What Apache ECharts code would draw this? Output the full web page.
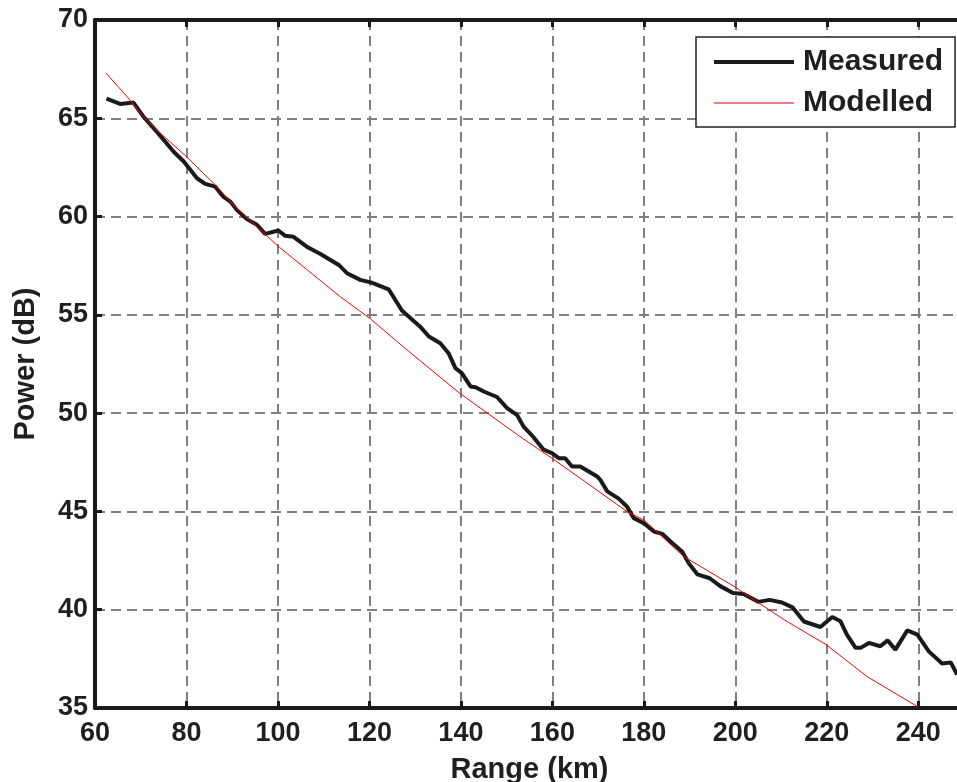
<!DOCTYPE html>
<html>
<head>
<meta charset="utf-8">
<script src="https://cdn.jsdelivr.net/npm/echarts@6/dist/echarts.min.js"></script>
<style>
html,body{margin:0;padding:0;background:#fff;}
#chart{width:957px;height:782px;}
</style>
</head>
<body>
<div id="chart"></div>
<script>
// Measured power vs range (km)
var measuredRange = [62.5, 65.5, 68.4, 70.6, 73.5, 77.2, 79.4, 82.3, 84.1, 86.3, 88.1, 89.6, 91.0, 93.2, 95.4, 97.2, 100.1, 101.6, 103.4, 106.3, 109.3, 113.3, 115.1, 118.0, 120.5, 124.2, 127.1, 131.1, 133.0, 135.5, 137.3, 138.8, 140.2, 142.1, 143.2, 145.0, 147.9, 150.1, 152.3, 153.7, 155.6, 158.1, 159.9, 161.4, 162.8, 164.3, 166.1, 169.8, 170.5, 172.0, 174.5, 176.3, 177.8, 180.0, 182.2, 184.0, 186.2, 188.4, 189.8, 191.7, 194.4, 196.7, 199.5, 201.8, 205.0, 207.5, 210.2, 212.5, 215.0, 218.6, 221.2, 223.0, 224.4, 226.3, 227.4, 229.2, 231.7, 233.3, 235.0, 237.6, 239.8, 242.3, 245.2, 247.1, 248.5];
var measuredPower = [66.0, 65.73, 65.8, 65.08, 64.32, 63.3, 62.8, 61.95, 61.66, 61.52, 61.0, 60.76, 60.34, 59.87, 59.58, 59.12, 59.29, 59.02, 58.97, 58.47, 58.1, 57.54, 57.12, 56.78, 56.64, 56.3, 55.22, 54.4, 53.9, 53.56, 53.05, 52.29, 52.04, 51.36, 51.32, 51.1, 50.82, 50.26, 49.9, 49.32, 48.85, 48.14, 47.97, 47.71, 47.71, 47.29, 47.29, 46.78, 46.6, 46.02, 45.65, 45.25, 44.66, 44.4, 43.98, 43.86, 43.39, 42.95, 42.37, 41.8, 41.6, 41.2, 40.85, 40.8, 40.4, 40.5, 40.37, 40.12, 39.4, 39.12, 39.63, 39.41, 38.73, 38.06, 38.06, 38.31, 38.14, 38.44, 37.97, 38.95, 38.73, 37.88, 37.26, 37.32, 36.7];

// Modelled power vs range (km)
var modelRange = [62.4, 67.0, 70.6, 74.3, 80.0, 83.7, 86.3, 90.3, 95.4, 100.0, 113.6, 120.2, 128.2, 139.7, 153.4, 159.9, 176.3, 180.1, 188.7, 199.7, 210.6, 219.9, 228.8, 240.0];
var modelPower = [67.3, 66.1, 65.08, 64.24, 63.05, 62.2, 61.61, 60.59, 59.49, 58.5, 55.93, 54.8, 53.22, 51.02, 48.73, 47.71, 45.0, 44.55, 42.71, 41.19, 39.5, 38.22, 36.6, 35.05];

var seriesNames = ['Measured', 'Modelled'];
var xTitle = 'Range (km)';
var yTitle = 'Power (dB)';

function pairs(xs, ys) {
  var out = [];
  for (var i = 0; i < xs.length; i++) out.push([xs[i], ys[i]]);
  return out;
}

var FONT = '"Liberation Sans", Arial, sans-serif';
var TXT = '#1f1f1f';
var AX = '#1a1a1a';

var chart = echarts.init(document.getElementById('chart'), null, {renderer: 'canvas'});
chart.setOption({
  animation: false,
  backgroundColor: '#ffffff',
  grid: {left: 95, top: 20, right: -7, bottom: 74, containLabel: false, outerBoundsMode: 'none'},
  xAxis: [{
    type: 'value', min: 60, max: 250, interval: 20, position: 'bottom',
    name: xTitle, nameLocation: 'middle', nameGap: 47,
    nameTextStyle: {fontFamily: FONT, fontWeight: 'bold', fontSize: 29, color: TXT},
    axisLine: {show: true, onZero: false, lineStyle: {color: AX, width: 4}},
    axisTick: {show: true, inside: true, length: 7, lineStyle: {color: AX, width: 3}},
    axisLabel: {fontFamily: FONT, fontWeight: 'bold', fontSize: 27, color: TXT, margin: 12, showMaxLabel: false},
    splitLine: {show: true, lineStyle: {color: '#808080', width: 2, type: [10, 6]}}
  }, {
    type: 'value', min: 60, max: 250, interval: 20, position: 'top',
    axisLine: {show: true, onZero: false, lineStyle: {color: AX, width: 4}},
    axisTick: {show: true, inside: true, length: 7, lineStyle: {color: AX, width: 3}},
    axisLabel: {show: false},
    splitLine: {show: false}
  }],
  yAxis: [{
    type: 'value', min: 35, max: 70, interval: 5, position: 'left',
    name: yTitle, nameLocation: 'middle', nameGap: 55, nameRotate: 90,
    nameTextStyle: {fontFamily: FONT, fontWeight: 'bold', fontSize: 29, color: TXT},
    axisLine: {show: true, onZero: false, lineStyle: {color: AX, width: 4}},
    axisTick: {show: true, inside: true, length: 7, lineStyle: {color: AX, width: 3}},
    axisLabel: {fontFamily: FONT, fontWeight: 'bold', fontSize: 27, color: TXT, margin: 7},
    splitLine: {show: true, lineStyle: {color: '#808080', width: 2, type: [10, 6]}}
  }, {
    type: 'value', min: 35, max: 70, interval: 5, position: 'right',
    axisLine: {show: true, onZero: false, lineStyle: {color: AX, width: 4}},
    axisTick: {show: true, inside: true, length: 7, lineStyle: {color: AX, width: 3}},
    axisLabel: {show: false},
    splitLine: {show: false}
  }],
  legend: {
    left: 696, top: 37, orient: 'vertical',
    itemWidth: 80, itemHeight: 14, itemGap: 11,
    padding: [10, 12, 9, 16],
    backgroundColor: '#ffffff', borderColor: '#222222', borderWidth: 1.5,
    itemStyle: {color: 'rgba(0,0,0,0)', borderWidth: 0},
    textStyle: {fontFamily: FONT, fontWeight: 'bold', fontSize: 30, color: TXT, padding: [0, 0, 0, 4]},
    data: [
      {name: seriesNames[0], lineStyle: {color: '#1a1a1a', width: 4}},
      {name: seriesNames[1], lineStyle: {color: '#f07f7f', width: 2}}
    ]
  },
  series: [{
    name: seriesNames[0], type: 'line', xAxisIndex: 0, yAxisIndex: 0,
    data: pairs(measuredRange, measuredPower),
    symbol: 'none', clip: true,
    lineStyle: {color: '#1a1a1a', width: 4},
    itemStyle: {color: '#1a1a1a'}, z: 3
  }, {
    name: seriesNames[1], type: 'line', xAxisIndex: 0, yAxisIndex: 0,
    data: pairs(modelRange, modelPower),
    symbol: 'none', clip: true,
    lineStyle: {color: '#ff0000', width: 1},
    itemStyle: {color: '#ff0000'}, z: 4
  }]
});
</script>
</body>
</html>
